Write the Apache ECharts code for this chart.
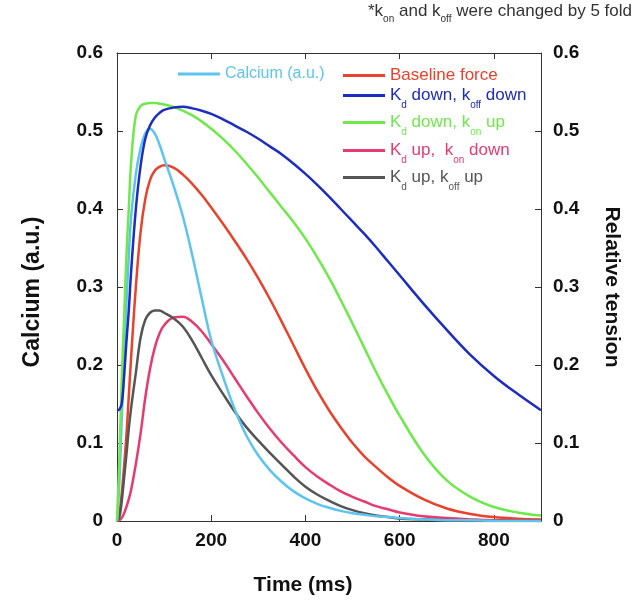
<!DOCTYPE html>
<html>
<head>
<meta charset="utf-8">
<script src="https://cdn.jsdelivr.net/npm/echarts@6/dist/echarts.min.js"></script>
<style>html,body{margin:0;padding:0;background:#fff}#c{width:638px;height:608px}</style>
</head>
<body>
<div id="c"></div>
<script>
// Time axis (ms)
const times = [0,5,10,15,20,25,30,40,50,60,70,80,90,100,120,140,160,180,200,225,250,275,300,325,350,375,400,425,450,475,500,525,550,575,600,650,700,750,800,850,900];
const calcium  = [0,0.05,0.13,0.21,0.28,0.34,0.39,0.445,0.478,0.497,0.503,0.497,0.483,0.465,0.43,0.39,0.34,0.285,0.232,0.185,0.143,0.109,0.084,0.065,0.05,0.038,0.029,0.022,0.017,0.013,0.01,0.008,0.006,0.005,0.004,0.002,0.001,0.001,0,0,0];
const baseline = [0,0.01,0.035,0.07,0.11,0.16,0.21,0.3,0.37,0.413,0.437,0.449,0.454,0.456,0.453,0.444,0.432,0.418,0.402,0.381,0.359,0.336,0.311,0.284,0.255,0.225,0.195,0.167,0.142,0.12,0.1,0.083,0.069,0.056,0.045,0.028,0.016,0.009,0.005,0.003,0.002];
const kdDownKoffDown = [0.142,0.143,0.15,0.185,0.23,0.27,0.32,0.4,0.455,0.49,0.507,0.517,0.523,0.527,0.53,0.531,0.529,0.526,0.522,0.515,0.507,0.499,0.49,0.48,0.47,0.458,0.445,0.431,0.416,0.4,0.384,0.368,0.351,0.333,0.315,0.279,0.245,0.213,0.186,0.163,0.142];
const kdDownKonUp = [0,0.08,0.18,0.26,0.34,0.4,0.46,0.52,0.532,0.535,0.536,0.536,0.535,0.534,0.531,0.526,0.52,0.512,0.503,0.49,0.475,0.458,0.44,0.421,0.402,0.383,0.362,0.338,0.312,0.283,0.253,0.222,0.191,0.162,0.135,0.087,0.052,0.031,0.018,0.011,0.007];
const kdUpKonDown = [0,0.001,0.004,0.01,0.018,0.028,0.04,0.073,0.112,0.158,0.195,0.222,0.24,0.251,0.261,0.262,0.255,0.243,0.227,0.206,0.183,0.16,0.138,0.118,0.1,0.084,0.069,0.057,0.047,0.038,0.031,0.025,0.019,0.015,0.011,0.006,0.004,0.002,0.001,0.001,0];
const kdUpKoffUp = [0,0.005,0.025,0.055,0.085,0.118,0.145,0.19,0.235,0.258,0.267,0.27,0.27,0.267,0.26,0.249,0.231,0.209,0.187,0.163,0.14,0.12,0.103,0.087,0.072,0.057,0.044,0.034,0.026,0.019,0.014,0.01,0.007,0.005,0.003,0.002,0.001,0,0,0,0];
const yTicks = [0,0.1,0.2,0.3,0.4,0.5,0.6];
const xTicks = [0,200,400,600,800];

const names = ['Calcium (a.u.)','Baseline force','Kd down, koff down','Kd down, kon up','Kd up, kon down','Kd up, koff up'];
const colors = ['#5cc4ee','#e8422c','#1c2dbf','#6fe84c','#e63b70','#555555'];
const richLabels = {
  'Calcium (a.u.)': '{m|Calcium (a.u.)}',
  'Baseline force': '{m|Baseline force}',
  'Kd down, koff down': '{m|K}{s|d}{m| down, k}{s|off}{m| down}',
  'Kd down, kon up': '{m|K}{s|d}{m| down, k}{s|on}{m| up}',
  'Kd up, kon down': '{m|K}{s|d}{m| up,  k}{s|on}{m| down}',
  'Kd up, koff up': '{m|K}{s|d}{m| up, k}{s|off}{m| up}'
};
const dataSets = [calcium, baseline, kdDownKoffDown, kdDownKonUp, kdUpKonDown, kdUpKoffUp];

const FONT = 'Liberation Sans, Arial, sans-serif';
const legendPos = [
  {left:178, top:66, fs:16},
  {left:343, top:67, fs:17},
  {left:343, top:87, fs:17},
  {left:343, top:114, fs:17},
  {left:343, top:142, fs:17},
  {left:343, top:169, fs:17}
];
const legends = names.map((n,i)=>({
  data:[n],
  left:legendPos[i].left, top:legendPos[i].top,
  padding:0, icon:'rect', itemWidth:42, itemHeight:3,
  selectedMode:false,
  formatter: name => richLabels[name],
  textStyle:{
    color:colors[i], fontFamily:FONT, fontSize:legendPos[i].fs,
    rich:{
      m:{color:colors[i], fontFamily:FONT, fontSize:legendPos[i].fs},
      s:{color:colors[i], fontFamily:FONT, fontSize:10, padding:[20,0,0,0]}
    }
  }
}));

const tickFmt = v => v===0 ? '0' : v.toFixed(1);
const axisLineStyle = {onZero:false, lineStyle:{color:'#333', width:1}};
const tickStyle = {show:true, inside:true, length:6, lineStyle:{color:'#333'}};
const labelStyle = {color:'#111', fontFamily:FONT, fontSize:19, fontWeight:'bold'};

const chart = echarts.init(document.getElementById('c'), null, {renderer:'canvas'});
chart.setOption({
  animation:false,
  backgroundColor:'#fff',
  grid:{left:117, right:97, top:53, bottom:87, containLabel:false},
  legend: legends,
  graphic:[{
    type:'text', right:6, top:3,
    style:{
      text:'{a|*k}{b|on}{a| and k}{b|off}{a| were changed by 5 fold}',
      rich:{
        a:{fill:'#333', fontFamily:FONT, fontSize:17},
        b:{fill:'#333', fontFamily:FONT, fontSize:10, padding:[15,0,0,0]}
      }
    }
  }],
  xAxis:[{
    type:'value', min:0, max:900, interval:200, position:'bottom',
    name:'Time (ms)', nameLocation:'middle', nameGap:54,
    nameTextStyle:{color:'#111', fontFamily:FONT, fontSize:21, fontWeight:'bold', padding:[0,52,0,0]},
    axisLine:{show:true, ...axisLineStyle}, axisTick:tickStyle,
    axisLabel:{...labelStyle, margin:10, showMaxLabel:false, formatter:v=>String(v)},
    splitLine:{show:false}
  },{
    type:'value', min:0, max:900, interval:200, position:'top',
    axisLine:{show:true, ...axisLineStyle}, axisTick:tickStyle,
    axisLabel:{show:false}, splitLine:{show:false}
  }],
  yAxis:[{
    type:'value', min:0, max:0.6, interval:0.1, position:'left',
    name:'Calcium (a.u.)', nameLocation:'middle', nameGap:73, nameRotate:90,
    nameTextStyle:{color:'#111', fontFamily:FONT, fontSize:23, fontWeight:'bold', padding:[0,10,0,0]},
    axisLine:{show:true, ...axisLineStyle}, axisTick:tickStyle,
    axisLabel:{...labelStyle, margin:14, formatter:tickFmt},
    splitLine:{show:false}
  },{
    type:'value', min:0, max:0.6, interval:0.1, position:'right',
    name:'Relative tension', nameLocation:'middle', nameGap:60, nameRotate:-90,
    nameTextStyle:{color:'#111', fontFamily:FONT, fontSize:21, fontWeight:'bold'},
    axisLine:{show:true, ...axisLineStyle}, axisTick:tickStyle,
    axisLabel:{...labelStyle, margin:12, formatter:tickFmt},
    splitLine:{show:false}
  }],
  series: names.map((n,i)=>({
    name:n, type:'line', xAxisIndex:0, yAxisIndex: i===0?0:1,
    data: times.map((t,j)=>[t, dataSets[i][j]]),
    showSymbol:false, smooth:0.4,
    lineStyle:{color:colors[i], width:2.5}, itemStyle:{color:colors[i]},
    z: [3,2,4,3,2,2][i]
  }))
});
</script>
</body>
</html>
